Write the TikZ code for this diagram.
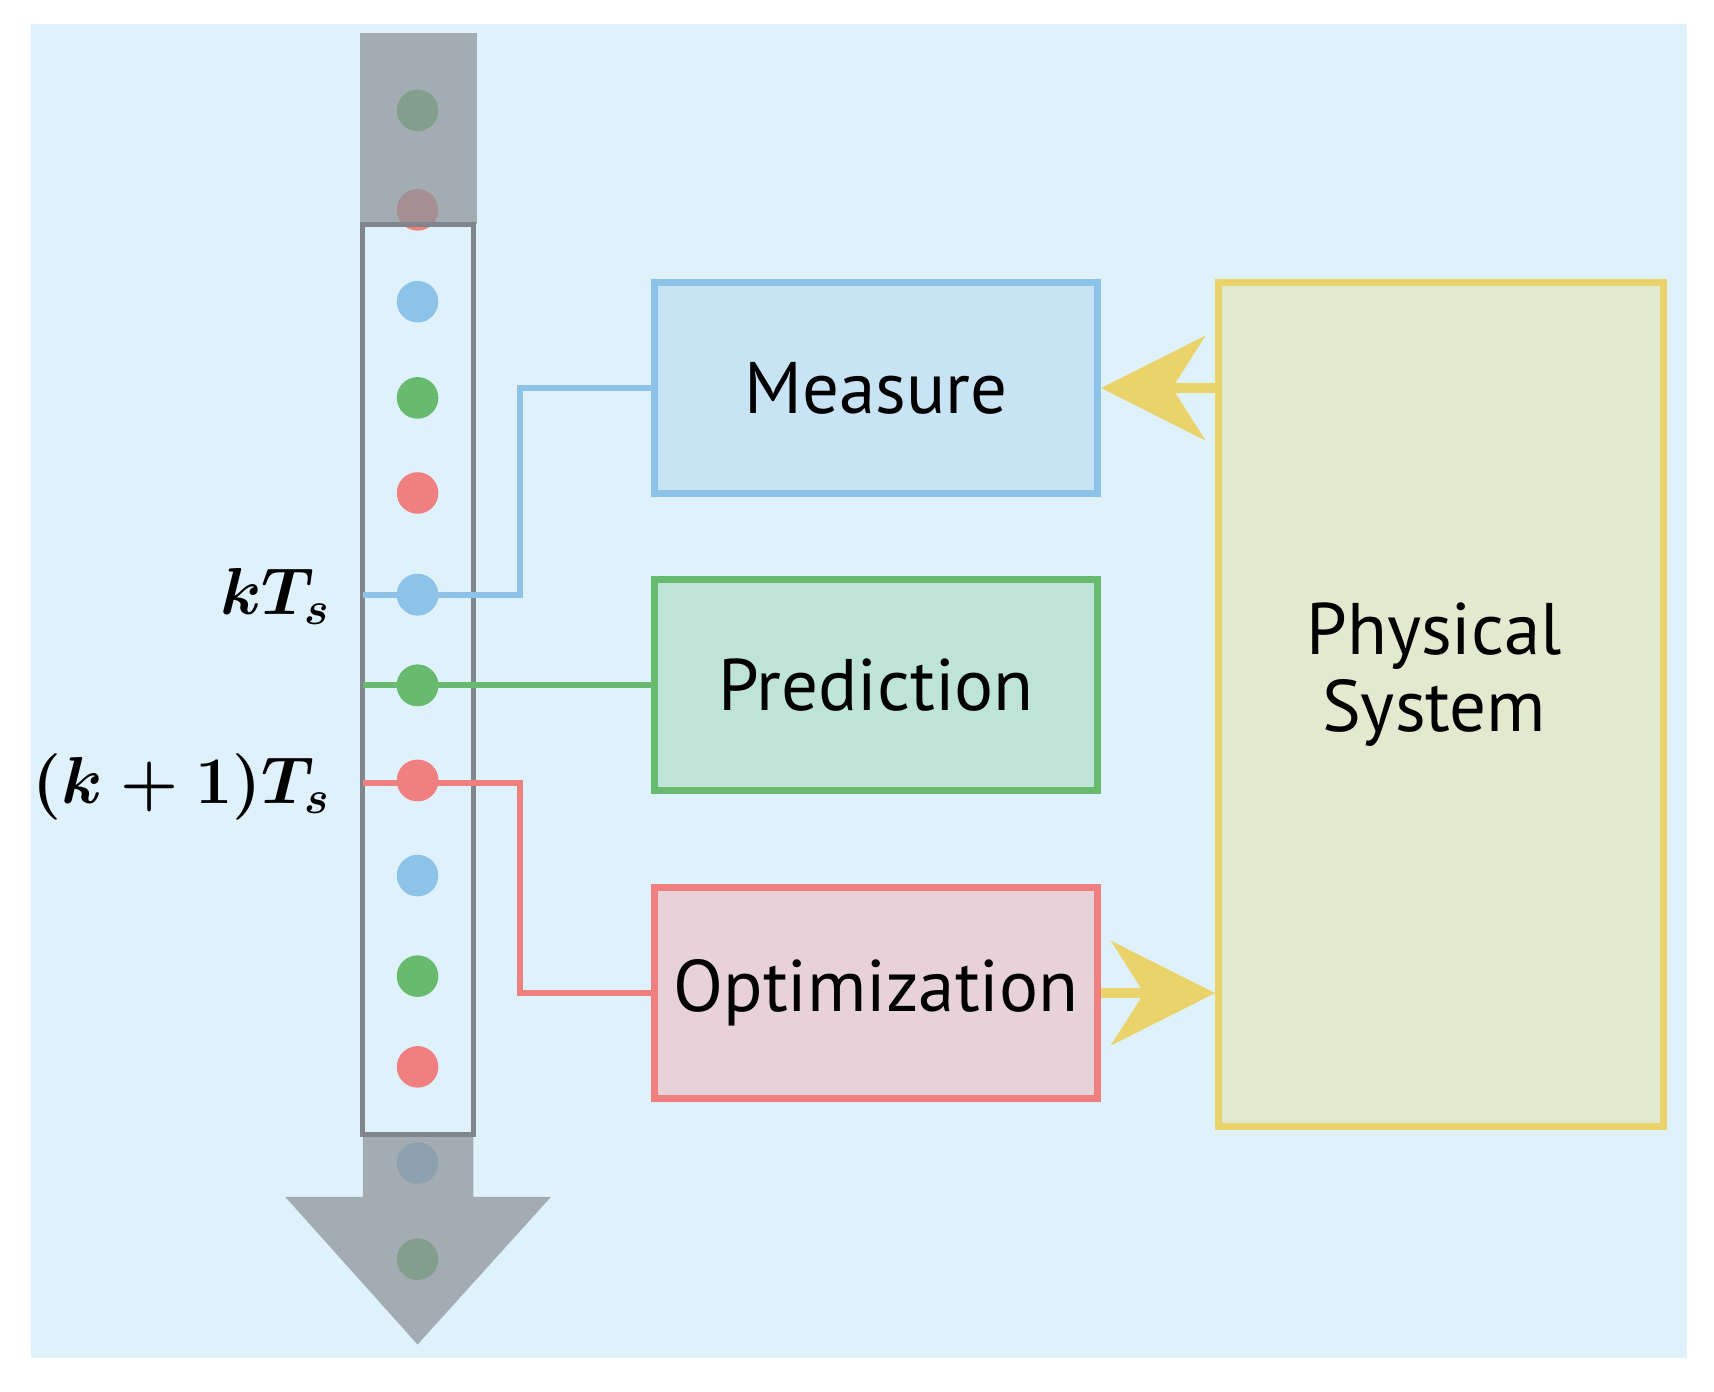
\documentclass[tikz,border=0pt]{standalone}
\usepackage{fontspec}
\setmainfont{PT Sans}
\usetikzlibrary{arrows.meta}
\definecolor{bgc}{HTML}{DFF1FB}
\definecolor{cb}{HTML}{8DC3E9}
\definecolor{cg}{HTML}{67BA6E}
\definecolor{cr}{HTML}{F08080}
\definecolor{cy}{HTML}{E9D36A}
\definecolor{gr}{HTML}{8E959A}
\definecolor{fb}{HTML}{C7E3F4}
\definecolor{fg}{HTML}{BDE4D6}
\definecolor{fr}{HTML}{E6D2D8}
\definecolor{fy}{HTML}{E3E9CF}
\begin{document}
\begin{tikzpicture}[x=0.01cm,y=-0.01cm,
 box/.style={draw=#1,line width=1.8pt,minimum width=4.05cm,minimum height=1.93cm,font=\fontsize{19}{22}\selectfont},
 dot/.style={circle,fill=#1,inner sep=0pt,minimum size=0.38cm},
 conn/.style={draw=#1,line width=1.5pt},
 yarr/.style={draw=cy,line width=2.8pt,-{Stealth[length=0.95cm,width=0.95cm,inset=0.3cm]}},
 lab/.style={anchor=east,inner sep=0pt,font=\fontsize{17.5}{20}\selectfont\boldmath}]
\useasboundingbox (0,0) rectangle (1568,1273);
\fill[bgc] (28,22) rectangle (1543,1242);
% dots
\foreach \y/\c [count=\i] in {101/cg,192/cr,276/cb,364/cg,451/cr,544/cb,627/cg,714/cr,801/cb,893/cg,976/cr,1064/cb,1152/cg}
  \node[dot=\c] (d\i) at (382,\y) {};
% gray arrow
\fill[gr,opacity=0.75] (329,30) rectangle (436,205);
\fill[gr,opacity=0.75] (332,1038) -- (433,1038) -- (433,1095) -- (504,1095) -- (382,1230) -- (261,1095) -- (332,1095) -- cycle;
\draw[gr!90!black,line width=1.3pt] (332,205) rectangle (433,1038);
% boxes
\node[box=cb,fill=fb] (meas) at (801.5,355) {Measure};
\node[box=cg,fill=fg] (pred) at (801.5,627) {Prediction};
\node[box=cr,fill=fr] (opt) at (801.5,908.5) {Optimization};
\node[draw=cy,line width=1.8pt,fill=fy,minimum width=4.07cm,minimum height=7.71cm] (phys) at (1318.5,644.5) {};
\node[align=center,font=\fontsize{19}{22}\selectfont] (physt) at (1312,617) {Physical\\[-2pt]System};
% connectors
\coordinate (s1) at (332,544); \coordinate (s2) at (332,627); \coordinate (s3) at (332,716);
\draw[conn=cb] (s1) -- (476,544) |- (meas.west);
\draw[conn=cg] (s2) -- (pred.west);
\draw[conn=cr] (s3) -- (476,716) |- (opt.west);
\node[dot=cb] at (d6) {};
\node[dot=cg] at (d7) {};
\node[dot=cr] at (d8) {};
% yellow arrows
\draw[yarr] (phys.west |- meas.east) -- (meas.east);
\draw[yarr] (opt.east) -- (phys.west |- opt.east);
% labels
\node[lab] at (303,546) {$kT_s$};
\node[lab] at (303,720) {$(k+1)T_s$};
\end{tikzpicture}
\end{document}
